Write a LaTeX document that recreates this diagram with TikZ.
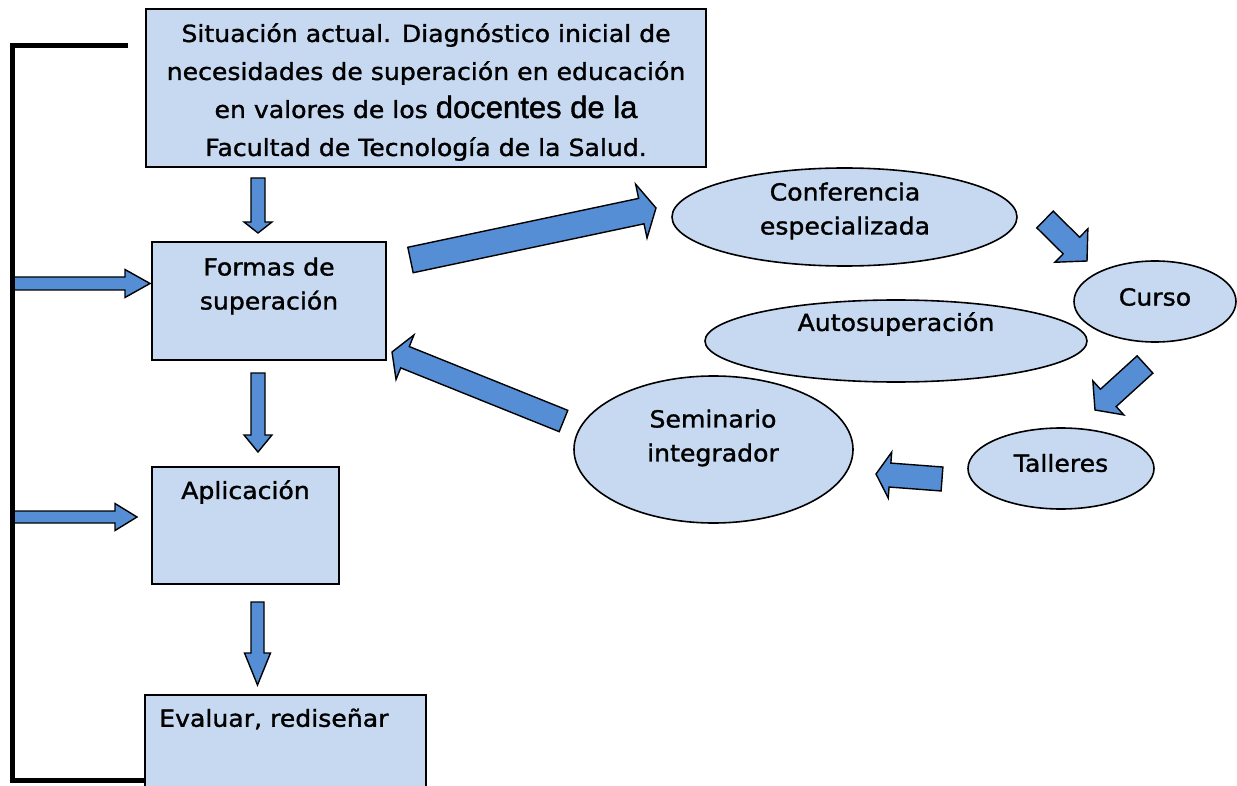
\documentclass[tikz,border=0pt]{standalone}
\usepackage{fontspec}
\setmainfont{DejaVu Sans}[FakeStretch=1.07,FakeBold=1.3]
\newfontfamily\arialf{Liberation Sans}[FakeBold=1.3]
\usetikzlibrary{calc,shapes.geometric}
\definecolor{boxfill}{RGB}{198,217,241}
\definecolor{arrowfill}{RGB}{85,142,213}
\tikzset{
  box/.style={draw=black, line width=1.6pt, fill=boxfill, inner sep=0pt},
  oval/.style={ellipse, draw=black, line width=1.6pt, fill=boxfill, inner sep=0pt},
  txt/.style={align=center, inner sep=0pt},
  barrow/.style={draw=black, line width=1.4pt, fill=arrowfill, line join=miter},
  bracket/.style={draw=black, line width=4.5pt}
}
\newcommand\blockarr[5]{%
  \coordinate (#1-hb) at ($(#2)!#5!(#1)$);
  \draw[barrow] ($(#1)!#3!90:(#2)$) -- ($(#1-hb)!#3!90:(#2)$) -- ($(#1-hb)!#4!90:(#2)$) -- (#2)
    -- ($(#1-hb)!#4!-90:(#2)$) -- ($(#1-hb)!#3!-90:(#2)$) -- ($(#1)!#3!-90:(#2)$) -- cycle;}
\begin{document}
\begin{tikzpicture}[x=1pt,y=-1pt,font=\fontsize{23.5}{34}\selectfont]
\useasboundingbox (0,0) rectangle (1237,786);
% boxes
\node[box, minimum width=560, minimum height=158] (sit) at (426,88) {};
\node[txt, font=\fontsize{23.5}{38}\selectfont] (sit-t) at (426,92)
  {Situación actual. Diagnóstico inicial de\\necesidades de superación en educación\\en valores de los {\arialf\fontsize{31}{38}\selectfont docentes de la}\\Facultad de Tecnología de la Salud.};
\node[box, minimum width=234, minimum height=118] (formas) at (269,301) {};
\node[txt] (formas-t) at (269,286) {Formas de\\superación};
\node[box, minimum width=187, minimum height=117] (apl) at (245.5,525.5) {};
\node[txt] (apl-t) at (245.5,492) {Aplicación};
\node[box, minimum width=281, minimum height=105] (eval) at (285.5,747.5) {};
\node[txt, anchor=west] (eval-t) at (159,719) {Evaluar, rediseñar};
% ellipses
\node[oval, minimum width=345, minimum height=98] (conf) at (844.5,217) {};
\node[txt] (conf-t) at (845,211) {Conferencia\\especializada};
\node[oval, minimum width=382, minimum height=82] (auto) at (896,341) {};
\node[txt] (auto-t) at (896,324) {Autosuperación};
\node[oval, minimum width=162, minimum height=81] (curso) at (1155,301.5) {};
\node[txt] (curso-t) at (1155,297) {Curso};
\node[oval, minimum width=186, minimum height=81] (tall) at (1061,468.5) {};
\node[txt] (tall-t) at (1061,463) {Talleres};
\node[oval, minimum width=279, minimum height=147] (sem) at (713.5,449.5) {};
\node[txt] (sem-t) at (713,438) {Seminario\\integrador};
% arrow end points
\coordinate (a1) at (258,178);   \coordinate (b1) at (258,233);
\coordinate (a2) at (258,373);   \coordinate (b2) at (258,452);
\coordinate (a3) at (257.5,602); \coordinate (b3) at (257.5,685);
\coordinate (a4) at (12,283.5);  \coordinate (b4) at (150,283.5);
\coordinate (a5) at (12,517);    \coordinate (b5) at (137,517);
\coordinate (a6) at (410.5,260); \coordinate (b6) at (656,208);
\coordinate (a7) at (1045,219.5);\coordinate (b7) at (1087,261);
\coordinate (a8) at (1145,364.5);\coordinate (b8) at (1095,410);
\coordinate (a9) at (942,479);   \coordinate (b9) at (876,474);
\coordinate (a10) at (563.5,421);\coordinate (b10) at (392,352);
\blockarr{a1}{b1}{7pt}{14pt}{11pt}
\blockarr{a2}{b2}{7pt}{14pt}{17pt}
\blockarr{a3}{b3}{6.5pt}{13pt}{32pt}
\blockarr{a4}{b4}{6.5pt}{14pt}{25pt}
\blockarr{a5}{b5}{6pt}{13.5pt}{22pt}
\blockarr{a6}{b6}{13pt}{27.5pt}{15pt}
\blockarr{a7}{b7}{11.7pt}{23.5pt}{22pt}
\blockarr{a8}{b8}{11.7pt}{23pt}{18pt}
\blockarr{a9}{b9}{12pt}{23pt}{14pt}
\blockarr{a10}{b10}{11.5pt}{24pt}{14pt}
% feedback bracket
\coordinate (brtop) at (128,45.5);
\draw[bracket] (brtop) -- (12.5,45.5) -- (12.5,780.5) -- (eval.west |- 0,780.5);
\end{tikzpicture}
\end{document}
